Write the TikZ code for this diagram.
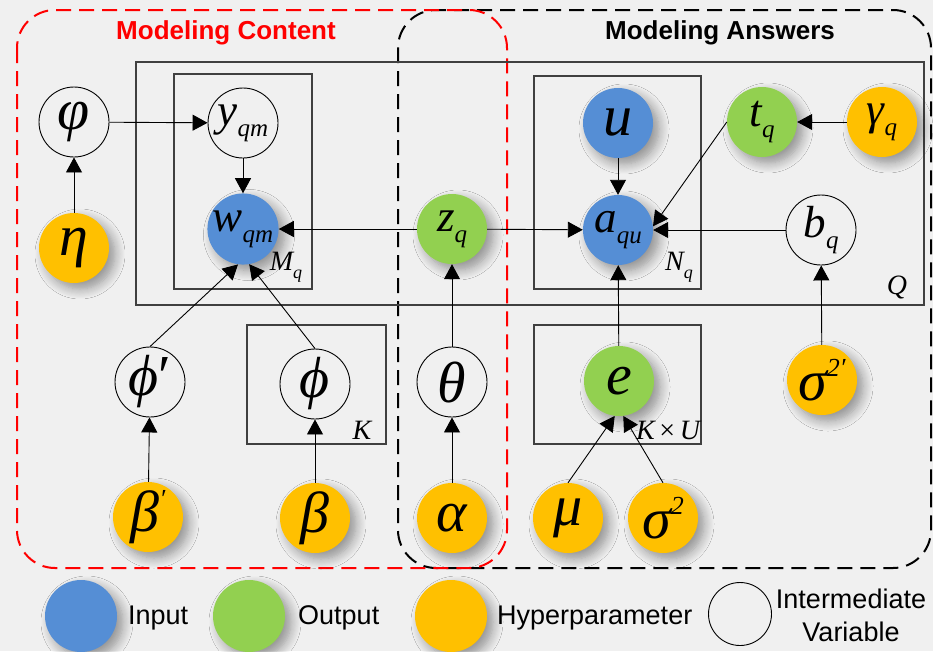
\documentclass[tikz,border=0pt]{standalone}
\usepackage{fontspec}
\setmainfont{Liberation Sans}
\newfontfamily\tms{Liberation Serif}
\usetikzlibrary{arrows.meta,shadows.blur}
\definecolor{cblue}{HTML}{558ED5}
\definecolor{cgreen}{HTML}{92D050}
\definecolor{cyel}{HTML}{FFC000}
\newcommand\fs[1]{\fontsize{#1}{#1}\selectfont}
\newcommand\fsl{\fontsize{27}{33}\selectfont}
\newcommand\sbs[1]{\raisebox{-0.25em}{\fs{25}#1}}
\newcommand\sps[1]{\raisebox{0.42em}{\fs{26}#1}}
\begin{document}
\begin{tikzpicture}[x=1pt,y=-1pt,
  var/.style={circle, minimum size=70pt, inner sep=0pt, font=\tms\itshape\fs{58}},
  small/.style={font=\tms\itshape\fs{45}},
  big/.style={font=\tms\itshape\fs{58}},
  shd/.style={blur shadow={shadow xshift=6pt, shadow yshift=-6pt, shadow blur radius=10pt, shadow opacity=40, shadow blur steps=10}},
  inp/.style={var, fill=cblue, shd},
  outp/.style={var, fill=cgreen, shd},
  hyp/.style={var, fill=cyel, shd},
  mid/.style={var, draw=black, line width=0.9pt},
  plate/.style={draw=black!75, line width=1.1pt},
  platelbl/.style={inner sep=0pt, font=\tms\itshape\fs{28}},
  edge/.style={-{Triangle[length=15pt,width=16pt]}, line width=0.9pt},
  grp/.style={line width=2pt, dash pattern=on 15pt off 8pt, rounded corners=38pt},
  legtext/.style={inner sep=0pt, font=\fs{27}},
  title/.style={inner sep=0pt, font=\bfseries\fs{26}}
]
\useasboundingbox (0,0) rectangle (933,651);
\fill[black!6] (0,0) rectangle (933,651);

% group boxes
\draw[grp, black] (398,10) rectangle (931,568);
\draw[grp, red] (17,10) rectangle (507,568);
\node[title, text=red] (tc) at (226,33) {Modeling Content};
\node[title, text=black] (ta) at (720,33) {Modeling Answers};

% plates
\draw[plate] (136,62) rectangle (924,305);
\draw[plate] (174,74) rectangle (312,289);
\draw[plate] (534,76) rectangle (701,289);
\draw[plate] (247,325) rectangle (386,444);
\draw[plate] (534,325) rectangle (701,444);
\node[platelbl] (lq) at (897,287) {Q};
\node[platelbl] (lm) at (286,267) {M\raisebox{-0.3em}{\fs{18}q}};
\node[platelbl] (ln) at (679,267) {N\raisebox{-0.3em}{\fs{18}q}};
\node[platelbl] (lk) at (362,430) {K};
\node[platelbl] (lku) at (668,430) {K{\upshape\,×\,}U};

% nodes
\node[mid] (vphi) at (74,122) {φ};
\node[hyp] (eta) at (74,248) {η};
\node[mid, small] (y) at (243,123) {y\sbs{qm}};
\node[inp, small] (w) at (243,229) {w\sbs{qm}};
\node[outp, small] (z) at (452,229) {z\sbs{q}};
\node[inp, big] (u) at (618,123) {u};
\node[inp, small] (a) at (618,230) {a\sbs{qu}};
\node[outp, small] (t) at (762,122) {t\sbs{q}};
\node[hyp, small] (g) at (882,122) {γ\sbs{q}};
\node[mid, small] (b) at (821,230) {b\sbs{q}};
\node[mid] (phip) at (150,382) {ϕ{\upshape′}};
\node[mid] (phi) at (315,384) {ϕ};
\node[mid] (th) at (452,382) {θ};
\node[outp, big] (e) at (619,381) {e};
\node[hyp] (s2p) at (822,380) {σ\sps{2′}};
\node[hyp] (bp) at (148,517) {β\sps{′}};
\node[hyp] (be) at (315,518) {β};
\node[hyp] (al) at (452,518) {α};
\node[hyp] (mu) at (568,518) {μ};
\node[hyp] (s2) at (663,518) {σ\sps{2}};

% edges
\draw[edge] (eta) -- (vphi);
\draw[edge] (vphi) -- (y);
\draw[edge] (y) -- (w);
\draw[edge] (z) -- (w);
\draw[edge] (z) -- (a);
\draw[edge] (u) -- (a);
\draw[edge] (t.west) -- (a.6);
\draw[edge] (g) -- (t);
\draw[edge] (b) -- (a);
\draw[edge] (e) -- (a);
\draw[edge] (s2p) -- (b);
\draw[edge] (mu.north) -- (e.263);
\draw[edge] (s2.north) -- (e.277);
\draw[edge] (phip.north) -- (w.262);
\draw[edge] (phi.north) -- (w.280);
\draw[edge] (bp) -- (phip);
\draw[edge] (be) -- (phi);
\draw[edge] (al) -- (th);
\draw[edge] (th) -- (z);

% legend
\node[var, fill=cblue, shd, minimum size=72pt] (l1) at (81,616) {};
\node[legtext, anchor=west] (l1t) at (128,618) {Input};
\node[var, fill=cgreen, shd, minimum size=72pt] (l2) at (249,616) {};
\node[legtext, anchor=west] (l2t) at (298,618) {Output};
\node[var, fill=cyel, shd, minimum size=72pt] (l3) at (451,616) {};
\node[legtext, anchor=west] (l3t) at (497,618) {Hyperparameter};
\node[mid, minimum size=63pt] (l4) at (740,614) {};
\node[legtext, align=center, font=\fsl] (l4t) at (851,615) {Intermediate\\Variable};
\end{tikzpicture}
\end{document}
